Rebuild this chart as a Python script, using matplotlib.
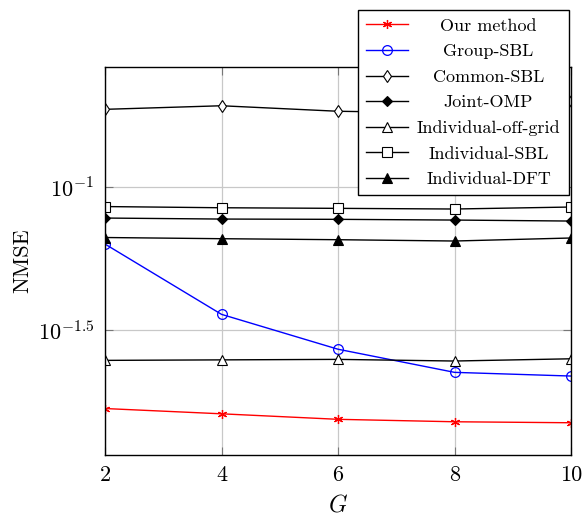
import matplotlib
matplotlib.use("Agg")
import matplotlib.pyplot as plt
from matplotlib.ticker import FixedLocator, FixedFormatter, NullLocator
from matplotlib.transforms import Bbox

plt.rcParams['font.family'] = ['cmr10', 'DejaVu Serif']
plt.rcParams['mathtext.fontset'] = 'cm'
plt.rcParams['axes.formatter.use_mathtext'] = True

G = [2, 4, 6, 8, 10]
our_method = [0.01679, 0.01609, 0.01539, 0.01509, 0.01497]
group_sbl = [0.06328, 0.03589, 0.02709, 0.02248, 0.02182]
common_sbl = [0.1876, 0.1931, 0.1847, 0.1821, 0.2011]
joint_omp = [0.07805, 0.07742, 0.07724, 0.0768, 0.07618]
indiv_offgrid = [0.02476, 0.02486, 0.02496, 0.02463, 0.02508]
indiv_sbl = [0.08563, 0.08481, 0.0844, 0.08395, 0.08531]
indiv_dft = [0.06671, 0.06607, 0.06554, 0.06485, 0.06645]

ytick_vals = [10**-1.5, 10**-1]
ytick_labels = [r'$10^{-1.5}$', r'$10^{-1}$']
xtick_labels = ['2', '4', '6', '8', '10']

fig = plt.figure(figsize=(5.84, 5.17), dpi=100)
ax = fig.add_axes([105/584, 1-454.5/517, (571-105)/584, (454.5-67.3)/517])

lw = 1.0
ax.plot(G, our_method, color='red', lw=lw, marker=(6, 2, 0), ms=6.5, mew=0.9, label='Our method')
ax.plot(G, group_sbl, color='blue', lw=lw, marker='o', ms=7, mfc='none', mew=0.9, label='Group-SBL')
ax.plot(G, common_sbl, color='black', lw=lw, marker='d', ms=6.5, mfc='white', mew=0.8, label='Common-SBL')
ax.plot(G, joint_omp, color='black', lw=lw, marker='D', ms=5.5, mfc='black', mew=0.8, label='Joint-OMP')
ax.plot(G, indiv_offgrid, color='black', lw=lw, marker='^', ms=7, mfc='white', mew=0.8, label='Individual-off-grid')
ax.plot(G, indiv_sbl, color='black', lw=lw, marker='s', ms=7.5, mfc='white', mew=0.8, label='Individual-SBL')
ax.plot(G, indiv_dft, color='black', lw=lw, marker='^', ms=7, mfc='black', mew=0.8, label='Individual-DFT')

ax.set_yscale('log')
ax.set_xlim(2, 10)
ax.set_ylim(10**-1.936, 10**-0.5795)
ax.set_xticks(G)
ax.set_xticklabels(xtick_labels)
ax.yaxis.set_major_locator(FixedLocator(ytick_vals))
ax.yaxis.set_major_formatter(FixedFormatter(ytick_labels))
ax.yaxis.set_minor_locator(NullLocator())
ax.grid(True, color='#c8c8c8', lw=0.9)
ax.set_axisbelow(True)
ax.tick_params(direction='in', length=6, width=0.8, color='#777777', labelsize=16,
               top=True, right=True, pad=8)
for s in ax.spines.values():
    s.set_linewidth(1.0)
    s.set_color('black')

ax.set_xlabel(r'$G$', fontsize=17, labelpad=7)
ax.set_ylabel('NMSE', fontsize=16, labelpad=4)

leg = ax.legend(loc='upper right', bbox_to_anchor=(568.5/584, 1-10/517),
                bbox_transform=fig.transFigure, borderaxespad=0, fontsize=13,
                frameon=True, fancybox=False, edgecolor='black', framealpha=1,
                handlelength=2.3, handletextpad=0.5, labelspacing=0.55,
                borderpad=0.45)
leg.get_frame().set_linewidth(1.0)

# center legend texts within a common column width
fig.canvas.draw()
renderer = fig.canvas.get_renderer()
rows = []
for col in leg._legend_handle_box.get_children():
    for row in col.get_children():
        rows.append(row)
tareas = [r.get_children()[1] for r in rows]
widths = [ta.get_bbox(renderer).width for ta in tareas]
W = max(widths)
for ta in tareas:
    ta._text.set_horizontalalignment('center')
    orig = ta.get_bbox
    def make(orig_fn, W=W):
        def gb(renderer):
            b = orig_fn(renderer)
            return Bbox.from_bounds(-W/2, b.y0, W, b.height)
        return gb
    ta.get_bbox = make(orig)

fig.savefig('out.png', dpi=100)
